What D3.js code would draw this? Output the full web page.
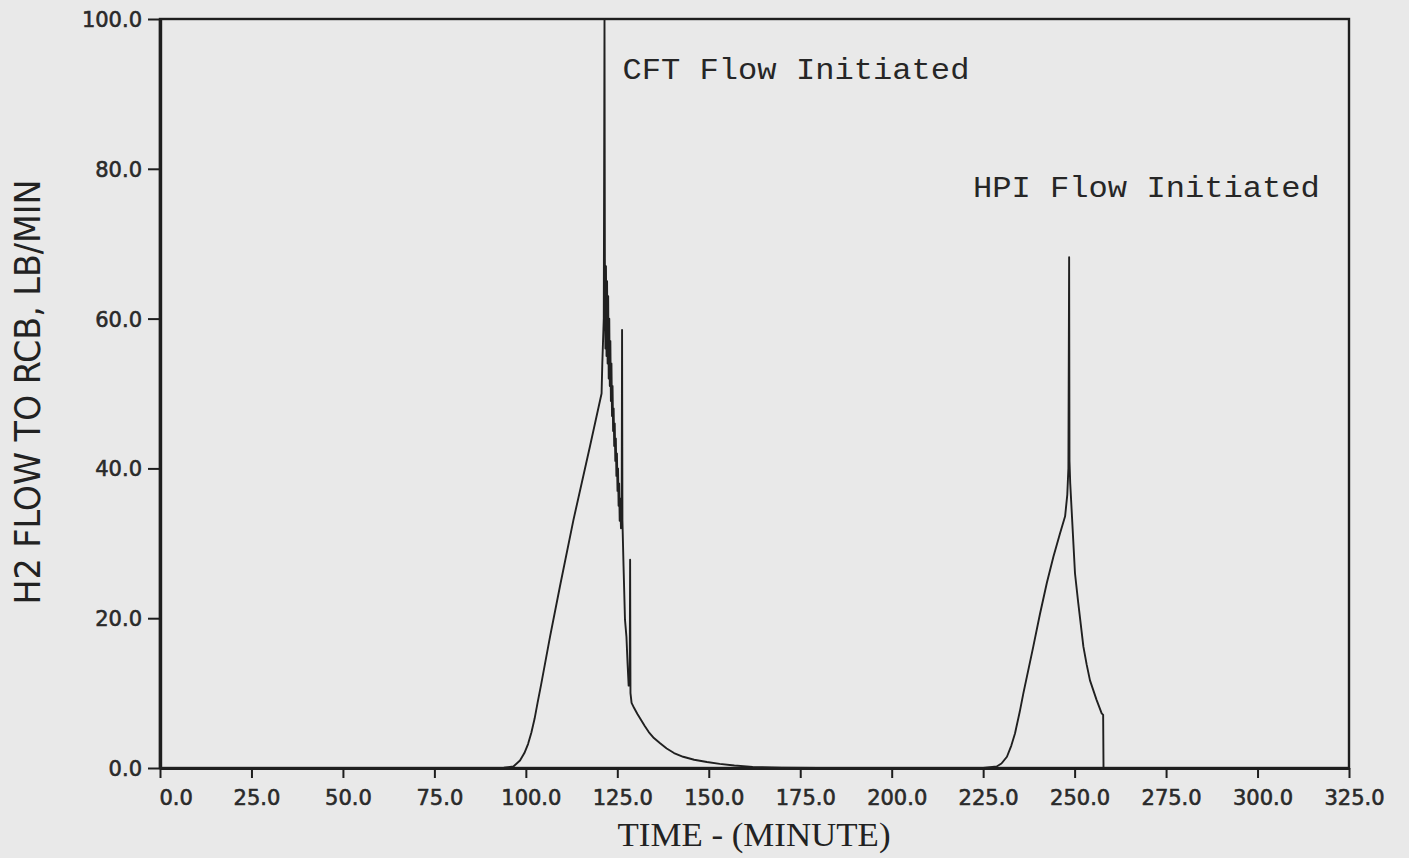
<!DOCTYPE html>
<html>
<head>
<meta charset="utf-8">
<script src="https://cdn.jsdelivr.net/npm/d3@7"></script>
<style>
  html, body { margin: 0; padding: 0; background: #e9e9e9; }
  svg { display: block; }
</style>
</head>
<body>
<svg id="chart" width="1409" height="858"></svg>
<script>
// ---- data ----
const xTicks = [0, 25, 50, 75, 100, 125, 150, 175, 200, 225, 250, 275, 300, 325];
const yTicks = [0, 20, 40, 60, 80, 100];
const xLabel = "TIME - (MINUTE)";
const yLabel = "H2 FLOW TO RCB, LB/MIN";
const annotations = ["CFT Flow Initiated", "HPI Flow Initiated"];
const annotationX = [126.4, 222.2];
const annotationY = [92.0, 76.3];

const time = [
  0, 90, 94, 96.6, 98.4, 99.6, 100.6, 101.5, 102.4, 103.2, 104.2, 106.6, 109.3, 113, 117.5, 120.7, 120.9,
  121.3, 121.5, 121.6, 121.75, 121.9, 122.05, 122.2, 122.35, 122.5, 122.65, 122.8, 122.95,
  123.1, 123.25, 123.4, 123.55, 123.7, 123.85, 124.0, 124.15, 124.3, 124.45, 124.6, 124.75,
  124.9, 125.05, 125.2, 125.35, 125.5, 125.65, 125.8, 126.0, 126.2, 126.3, 126.4, 126.7,
  127.1, 127.5, 127.8, 128.1, 128.4, 128.5, 128.6, 128.9, 129.6, 130.5, 131.5, 132.5, 133.6,
  135, 136.7, 138.5, 140.5, 143, 146, 149.5, 153, 157, 162, 170, 180,
  225, 228.7, 230, 231.5, 232.7, 233.7, 235, 236, 238.7, 240.5, 242.4, 244.2, 246, 247.4,
  248.0, 248.3, 248.5, 248.6, 248.8, 250.1, 251, 252.4, 253.3, 254.2, 256, 257.4, 257.8, 257.9
];
const flow = [
  0, 0, 0.03, 0.2, 1.0, 2.0, 3.2, 4.7, 6.6, 8.7, 11.2, 17.5, 24.2, 33.1, 42.9, 50, 54,
  60, 100, 68, 56, 67, 55, 65, 54, 63, 52, 60, 51,
  57, 49, 54, 47, 51, 45, 48, 43, 46, 41, 44, 39,
  42, 37, 40, 35, 38, 33, 36, 32, 35, 58.5, 33, 27,
  19.8, 17.5, 14, 11, 13, 27.8, 10, 8.7, 8.0, 7.2, 6.4, 5.6, 4.8,
  4.0, 3.3, 2.6, 2.0, 1.5, 1.1, 0.8, 0.55, 0.33, 0.15, 0.04, 0,
  0, 0.2, 0.6, 1.5, 3, 4.6, 7.5, 10, 16.2, 20.5, 24.7, 28.2, 31.3, 33.6,
  36.5, 40, 68.2, 41, 38, 26, 22, 16.2, 13.8, 11.7, 9.1, 7.3, 7.1, 0
];

// ---- layout ----
const svg = d3.select("#chart");
const mLeft = 160, mRight = 1349, mTop = 19, mBottom = 768;
const x = d3.scaleLinear().domain([0, 325]).range([mLeft, mRight]);
const y = d3.scaleLinear().domain([0, 100]).range([mBottom, mTop]);
const ink = "#1e1e1e";
const labelInk = "#2a2a2a";

// frame
svg.append("rect")
  .attr("x", mLeft).attr("y", mTop)
  .attr("width", mRight - mLeft).attr("height", mBottom - mTop)
  .attr("fill", "none").attr("stroke", ink).attr("stroke-width", 2.4);

// x axis
const xAxis = svg.append("g").attr("transform", `translate(0,${mBottom})`)
  .call(d3.axisBottom(x).tickValues(xTicks).tickSize(10).tickSizeOuter(0)
    .tickFormat(d3.format(".1f")));
xAxis.select(".domain").attr("stroke", ink).attr("stroke-width", 3.2);
xAxis.selectAll(".tick line").attr("stroke", ink).attr("stroke-width", 2);
xAxis.selectAll(".tick text")
  .attr("y", 30).attr("dy", "0.32em").attr("dx", 5)
  .attr("fill", labelInk).attr("stroke", labelInk).attr("stroke-width", 0.6)
  .style("font-family", "'DejaVu Sans', sans-serif")
  .style("font-size", "21px")
  .filter(d => d === 0).attr("text-anchor", "start").attr("dx", -1);

// y axis
const yAxis = svg.append("g").attr("transform", `translate(${mLeft},0)`)
  .call(d3.axisLeft(y).tickValues(yTicks).tickSize(12).tickSizeOuter(0)
    .tickFormat(d3.format(".1f")));
yAxis.select(".domain").attr("stroke", ink).attr("stroke-width", 3.4);
yAxis.selectAll(".tick line").attr("stroke", ink).attr("stroke-width", 2);
yAxis.selectAll(".tick text")
  .attr("x", -18).attr("dy", "0.36em")
  .attr("fill", labelInk).attr("stroke", labelInk).attr("stroke-width", 0.6)
  .style("font-family", "'DejaVu Sans', sans-serif")
  .style("font-size", "21px");

// series line
const pts = time.map((t, i) => [t, flow[i]]);
svg.append("path")
  .datum(pts)
  .attr("fill", "none")
  .attr("stroke", "#202020")
  .attr("stroke-width", 1.9)
  .attr("stroke-linejoin", "round")
  .attr("d", d3.line().x(d => x(d[0])).y(d => y(d[1])));

// annotations
annotations.forEach((txt, i) => {
  svg.append("text")
    .attr("x", x(annotationX[i])).attr("y", y(annotationY[i]))
    .attr("fill", "#262626")
    .style("font-family", "'Liberation Mono', 'DejaVu Sans Mono', monospace")
    .style("font-size", "30px")
    .attr("textLength", 347).attr("lengthAdjust", "spacingAndGlyphs")
    .text(txt);
});

// axis titles
svg.append("text")
  .attr("x", 754).attr("y", 846)
  .attr("text-anchor", "middle")
  .attr("fill", "#222")
  .style("font-family", "'Liberation Serif', 'Times New Roman', serif")
  .style("font-size", "33px")
  .attr("textLength", 273).attr("lengthAdjust", "spacingAndGlyphs")
  .text(xLabel);

svg.append("text")
  .attr("transform", "translate(40,392) rotate(-90)")
  .attr("text-anchor", "middle")
  .attr("fill", "#222")
  .style("font-family", "'Liberation Sans Narrow', 'DejaVu Sans Condensed', sans-serif")
  .style("font-size", "36px")
  .attr("textLength", 425).attr("lengthAdjust", "spacingAndGlyphs")
  .text(yLabel);
</script>
</body>
</html>
